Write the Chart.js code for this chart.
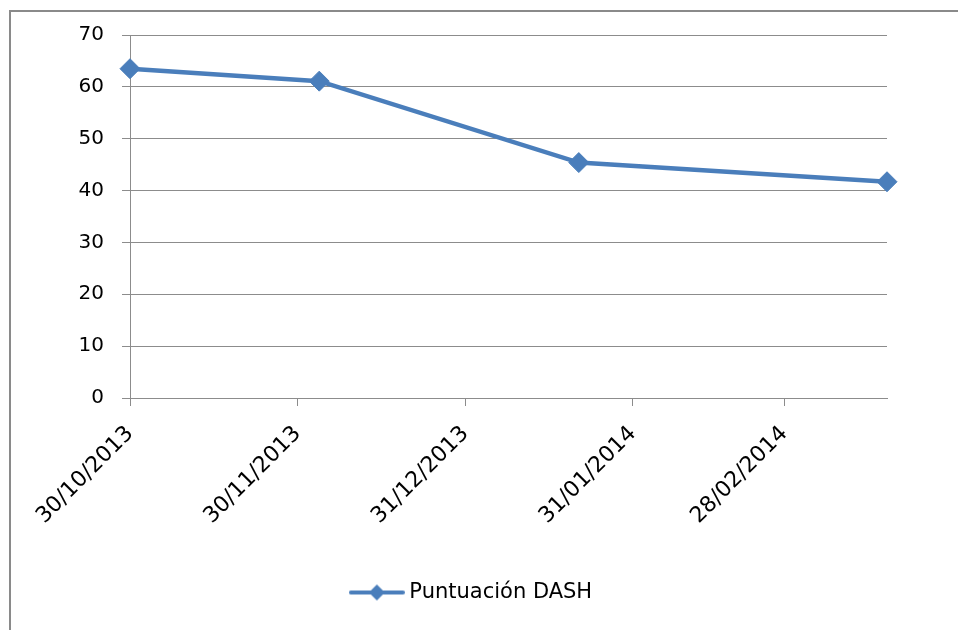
<!DOCTYPE html>
<html><head><meta charset="utf-8">
<script src="https://cdn.jsdelivr.net/npm/chart.js@4.4.1/dist/chart.umd.min.js"></script>
<style>
html,body{margin:0;padding:0;background:#fff;overflow:hidden;width:958px;height:630px}
#frame{position:absolute;left:9px;top:10px;width:960px;height:640px;border-left:2px solid #8a8a8a;border-top:2px solid #8a8a8a;box-sizing:border-box}
#wrap{position:absolute;left:0;top:0;width:958px;height:630px}
</style></head><body>
<div id="frame"></div>
<div id="wrap"><canvas id="c" width="958" height="630"></canvas></div>
<script>
const seriesName = 'Puntuación DASH';
const pointDates = ['30/10/2013', '04/12/2013', '21/01/2014', '19/03/2014'];
const dashScores = [63.5, 61.1, 45.4, 41.7];
const xTickLabels = ['30/10/2013', '30/11/2013', '31/12/2013', '31/01/2014', '28/02/2014'];
const yTickValues = [0, 10, 20, 30, 40, 50, 60, 70];

const BLUE = '#4A7EBB';
const GRID = '#8c8c8c';
const FONT = 'DejaVu Sans';

function dayNum(s) {
  const [d, m, y] = s.split('/').map(Number);
  return Date.UTC(y, m - 1, d) / 86400000;
}
const base = dayNum(pointDates[0]);
const points = pointDates.map((d, i) => ({ x: dayNum(d) - base, y: dashScores[i] }));
const tickDays = xTickLabels.map(s => dayNum(s) - base);

// legend symbol: line with diamond
const legImg = document.createElement('canvas');
legImg.width = 56; legImg.height = 22;
(function () {
  const g = legImg.getContext('2d');
  g.strokeStyle = BLUE; g.lineWidth = 4; g.lineCap = 'round';
  g.beginPath(); g.moveTo(2, 11); g.lineTo(54, 11); g.stroke();
  g.fillStyle = BLUE;
  g.beginPath(); g.moveTo(28, 3); g.lineTo(36, 11); g.lineTo(28, 19); g.lineTo(20, 11); g.closePath(); g.fill();
})();

new Chart(document.getElementById('c'), {
  type: 'line',
  data: {
    datasets: [{
      label: seriesName,
      data: points,
      borderColor: BLUE,
      backgroundColor: BLUE,
      borderWidth: 4.5,
      pointStyle: 'rectRot',
      pointRadius: 10,
      pointBorderWidth: 1,
      pointBackgroundColor: BLUE,
      pointBorderColor: BLUE,
      tension: 0,
      fill: false,
      clip: false
    }]
  },
  options: {
    responsive: false,
    animation: false,
    devicePixelRatio: 1,
    layout: { padding: { left: 60, right: 71, top: 35, bottom: 17 } },
    plugins: {
      tooltip: { enabled: false },
      legend: {
        display: true,
        position: 'bottom',
        labels: {
          usePointStyle: true,
          pointStyleWidth: 44,
          boxHeight: 20,
          padding: 10,
          color: '#000',
          font: { family: FONT, size: 21 },
          generateLabels: () => [{
            text: seriesName,
            pointStyle: legImg,
            fillStyle: BLUE,
            strokeStyle: BLUE,
            lineWidth: 0,
            hidden: false,
            datasetIndex: 0,
            fontColor: '#000'
          }]
        }
      }
    },
    scales: {
      x: {
        type: 'linear',
        min: 0,
        max: points[points.length - 1].x,
        afterBuildTicks: s => { s.ticks = tickDays.map(v => ({ value: v })); },
        afterFit: s => { s.height = 174; s.paddingLeft = 0; s.paddingRight = 0; },
        grid: { drawOnChartArea: false, drawTicks: true, tickLength: 8, color: GRID, lineWidth: 1 },
        border: { display: true, color: GRID, width: 1 },
        ticks: {
          autoSkip: false,
          minRotation: 45,
          maxRotation: 45,
          padding: 15,
          color: '#000',
          font: { family: FONT, size: 22 },
          callback: v => { const i = tickDays.indexOf(v); return i >= 0 ? xTickLabels[i] : ''; }
        }
      },
      y: {
        min: 0,
        max: 70,
        afterBuildTicks: s => { s.ticks = yTickValues.map(v => ({ value: v })); },
        afterFit: s => { s.width = 70; s.paddingTop = 0; s.paddingBottom = 0; },
        grid: { color: GRID, lineWidth: 1, tickLength: 8, drawTicks: true },
        border: { display: true, color: GRID, width: 1 },
        ticks: {
          padding: 18,
          color: '#000',
          font: { family: FONT, size: 20 },
          callback: v => String(v)
        }
      }
    }
  }
});
</script>
</body></html>
